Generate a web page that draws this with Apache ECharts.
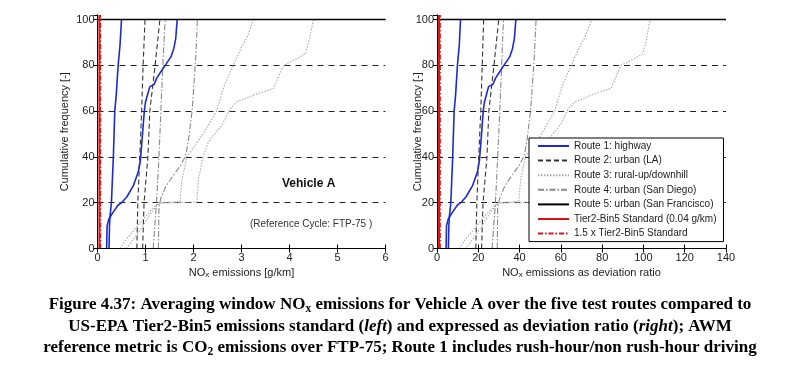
<!DOCTYPE html>
<html><head><meta charset="utf-8">
<script src="https://cdn.jsdelivr.net/npm/echarts@6/dist/echarts.min.js"></script>
<style>html,body{margin:0;padding:0;background:#fff}#c{width:800px;height:369px}</style>
</head><body><div id="c"></div>
<script>
// ---- tick labels ----
const yTicks = [0, 20, 40, 60, 80, 100];
const yMax = 102;
const leftXTicks = [0, 1, 2, 3, 4, 5, 6];
const rightXTicks = [0, 20, 40, 60, 80, 100, 120, 140];

// ---- legend names ----
const names = ['Route 1: highway', 'Route 2: urban (LA)', 'Route 3: rural-up/downhill',
  'Route 4: urban (San Diego)', 'Route 5: urban (San Francisco)',
  'Tier2-Bin5 Standard (0.04 g/km)', '1.5 x Tier2-Bin5 Standard'];

// ---- left panel: NOx [g/km] vs cumulative frequency [%] ----
const L_r1a = [[0.24,0],[0.25,10],[0.26,14],[0.29,20],[0.33,40],[0.36,60],[0.39,67],[0.43,80],[0.47,89],[0.50,100]];
const L_r1b = [[0.19,0],[0.20,10],[0.24,13],[0.33,16],[0.43,19],[0.50,20],[0.61,22.5],[0.75,27.6],[0.85,33.5],[0.89,38],[0.90,40],[0.93,48],[0.975,60],[1.00,64],[1.09,70.7],[1.18,71.7],[1.23,74.3],[1.32,77.2],[1.41,80],[1.53,83.7],[1.59,87.4],[1.63,91.8],[1.66,100]];
const L_r2a = [[0.82,0],[0.84,20],[0.88,40],[0.92,60],[0.95,80],[0.99,100]];
const L_r2b = [[0.94,0],[0.97,20],[1.05,40],[1.09,60],[1.20,80],[1.30,100]];
const L_r3a = [[0.47,0],[0.60,4],[0.80,9],[1.00,14],[1.20,18.5],[1.30,20],[1.72,20.5],[1.76,30],[1.86,40],[2.20,50],[2.48,60],[2.62,70],[2.70,74],[2.83,80],[3.00,88],[3.11,92],[3.25,100]];
const L_r3b = [[0.60,0],[0.75,4],[0.95,10],[1.10,15],[1.25,19],[1.30,19.8],[2.07,20.3],[2.10,30],[2.20,40],[2.30,46],[2.36,48],[2.60,54],[2.76,61],[2.90,64],[3.25,67],[3.67,70],[3.77,75],[3.88,80],[4.16,83],[4.33,85],[4.40,90],[4.50,100]];
const L_r4a = [[1.16,0],[1.23,20],[1.28,40],[1.32,60],[1.36,80],[1.41,100]];
const L_r4b = [[1.27,0],[1.28,18],[1.32,22],[1.42,27],[1.58,32],[1.72,36],[1.80,39],[1.85,42],[1.90,48],[1.97,60],[2.02,75],[2.05,85],[2.08,100]];
const L_r5 = [[0,100],[6,100]];
const L_std = [[0.04,0],[0.04,102]];
const L_std15 = [[0.06,0],[0.06,102]];

// ---- right panel: deviation ratio vs cumulative frequency [%] ----
const R_r1a = [[5.5,0],[5.75,10],[6.0,14],[6.7,20],[7.6,40],[8.3,60],[9.0,67],[9.9,80],[10.8,89],[11.4,100]];
const R_r1b = [[4.4,0],[4.6,10],[5.5,13],[7.6,16],[9.9,19],[11.5,20],[14.0,22.5],[17.3,27.6],[19.6,33.5],[20.5,38],[20.7,40],[21.4,48],[22.4,60],[23.0,64],[25.0,70.7],[27.1,71.7],[28.3,74.3],[30.4,77.2],[32.4,80],[35.2,83.7],[36.6,87.4],[37.5,91.8],[38.2,100]];
const R_r2a = [[18.8,0],[19.3,20],[20.2,40],[21.2,60],[21.9,80],[22.6,100]];
const R_r2b = [[21.6,0],[22.3,20],[24.2,40],[25.1,60],[27.6,80],[29.9,100]];
const R_r3a = [[10.8,0],[13.8,4],[18.4,9],[23.0,14],[27.6,18.5],[29.9,20],[39.6,20.5],[40.5,30],[42.8,40],[50.6,50],[57.0,60],[60.3,70],[62.1,74],[65.1,80],[69.0,88],[71.5,92],[75.0,100]];
const R_r3b = [[13.8,0],[17.3,4],[21.9,10],[25.3,15],[28.8,19],[29.9,19.8],[47.6,20.3],[48.3,30],[50.6,40],[52.9,46],[54.3,48],[59.8,54],[63.5,61],[66.7,64],[74.8,67],[84.4,70],[86.7,75],[89.2,80],[95.7,83],[99.6,85],[101.2,90],[103.2,100]];
const R_r4a = [[26.7,0],[28.3,20],[29.4,40],[30.4,60],[31.3,80],[32.2,100]];
const R_r4b = [[29.2,0],[29.4,18],[30.4,22],[32.7,27],[36.3,32],[39.6,36],[41.4,39],[42.6,42],[43.7,48],[45.3,60],[46.5,75],[47.2,85],[48.0,100]];
const R_r5 = [[0,100],[140,100]];
const R_std = [[1,0],[1,102]];
const R_std15 = [[1.5,0],[1.5,102]];

const FONT = 'Liberation Sans, Arial, sans-serif';
const styles = {
  r1: {color:'#1c2bd0', width:1.6, type:'solid'},
  r2: {color:'#333333', width:1.1, type:[5,3]},
  r3: {color:'#a8a8a8', width:1.1, type:[1.5,1.5]},
  r4: {color:'#888888', width:1.1, type:[6,2,1.5,2]},
  r5: {color:'#000000', width:1.5, type:'solid'},
  std: {color:'#e01010', width:2, type:'solid'},
  std15: {color:'#e01010', width:1.5, type:[5,2,1.5,2]}
};

function ln(name, data, idx, st) {
  return {type:'line', name:name, data:data, xAxisIndex:idx, yAxisIndex:idx,
    symbol:'none', showSymbol:false, lineStyle:st, itemStyle:{color:st.color},
    silent:true, animation:false, clip:true};
}

const series = [];
[[0, [L_r3a,L_r3b], [L_r4a,L_r4b], [L_r2a,L_r2b], [L_r1a,L_r1b], L_r5, L_std, L_std15],
 [1, [R_r3a,R_r3b], [R_r4a,R_r4b], [R_r2a,R_r2b], [R_r1a,R_r1b], R_r5, R_std, R_std15]].forEach(function(p){
  const i = p[0];
  series.push(ln(names[0], p[4][0], i, styles.r1));
  p[3].forEach(function(d){ series.push(ln(names[1], d, i, styles.r2)); });
  p[1].forEach(function(d){ series.push(ln(names[2], d, i, styles.r3)); });
  p[2].forEach(function(d){ series.push(ln(names[3], d, i, styles.r4)); });
  series.push(ln(names[0], p[4][1], i, styles.r1));
  series.push(ln(names[4], p[5], i, styles.r5));
  series.push(ln(names[5], p[6], i, styles.std));
  series.push(ln(names[6], p[7], i, styles.std15));
});

const axisLineStyle = {show:true, lineStyle:{color:'#000', width:1}};
const tickStyle = {show:true, inside:true, length:4, lineStyle:{color:'#000'}};
const labelStyle = {color:'#222', fontSize:11, fontFamily:FONT};
const subRich = {s:{fontSize:8, fontFamily:FONT, color:'#222', verticalAlign:'bottom', padding:[4,0,0,0]}};

function xAx(grid, ticks, pos, name) {
  return {type:'value', gridIndex:grid, position:pos, min:ticks[0], max:ticks[ticks.length-1],
    interval:ticks[1]-ticks[0], axisLine:axisLineStyle, axisTick:tickStyle,
    axisLabel: pos === 'bottom' ? Object.assign({margin:4}, labelStyle) : {show:false},
    splitLine:{show:false}, name: name || '', nameLocation:'middle', nameGap:18.5, nameMoveOverlap:false,
    z: 5,
    nameTextStyle:{color:'#222', fontSize:11, fontFamily:FONT, rich:subRich}};
}
function yAx(grid, pos, name, gap) {
  return {type:'value', gridIndex:grid, position:pos, min:yTicks[0], max:yMax,
    interval:yTicks[1]-yTicks[0], axisLine:axisLineStyle, axisTick:tickStyle,
    axisLabel: pos === 'left' ? Object.assign({margin:3, showMaxLabel:false}, labelStyle) : {show:false},
    splitLine:{show: pos === 'left', showMinLine:false, showMaxLine:false, lineStyle:{color:'#222', width:1, type:[6,5]}},
    name: name || '', nameLocation:'middle', nameGap:gap || 0, nameRotate:90, nameMoveOverlap:false,
    nameTextStyle:{color:'#222', fontSize:11, fontFamily:FONT}};
}

const option = {
  backgroundColor:'#fff',
  animation:false,
  grid:[
    {left:97.5, top:15, width:288, height:233.5},
    {left:437, top:15, width:289, height:233.5}
  ],
  xAxis:[
    xAx(0, leftXTicks, 'bottom', 'NO{s|x} emissions [g/km]'),
    xAx(1, rightXTicks, 'bottom', 'NO{s|x} emissions as deviation ratio'),
    xAx(0, leftXTicks, 'top'),
    xAx(1, rightXTicks, 'top')
  ],
  yAxis:[
    yAx(0, 'left', 'Cumulative frequency [-]', 27),
    yAx(1, 'left', 'Cumulative frequency [-]', 14),
    yAx(0, 'right'),
    yAx(1, 'right')
  ],
  legend:{
    data:names, orient:'vertical', left:529, top:138,
    itemWidth:31, itemHeight:10, itemGap:4.6, padding:[3,7,3,8],
    backgroundColor:'#fff', borderColor:'#000', borderWidth:1, borderRadius:0,
    textStyle:{color:'#222', fontSize:10, fontFamily:FONT},
    itemStyle:{opacity:0, color:'transparent', borderWidth:0},
    selectedMode:false
  },
  title:{
    left:'center', top:289,
    text:'Figure 4.37: Averaging window NO{s|x} emissions for Vehicle A over the five test routes compared to\nUS-EPA Tier2-Bin5 emissions standard ({i|left}) and expressed as deviation ratio ({i|right}); AWM\nreference metric is CO{s|2} emissions over FTP-75; Route 1 includes rush-hour/non rush-hour driving',
    textStyle:{color:'#000', fontSize:17, fontWeight:'bold', fontFamily:'Liberation Serif, Times New Roman, serif', lineHeight:21.5,
      rich:{
        s:{fontSize:11.5, fontWeight:'bold', fontFamily:'Liberation Serif, serif', color:'#000', verticalAlign:'bottom', lineHeight:15},
        i:{fontSize:17, fontWeight:'bold', fontStyle:'italic', fontFamily:'Liberation Serif, serif', color:'#000', lineHeight:21.5}
      }}
  },
  graphic:[
    {type:'text', left:282, top:178, style:{text:'Vehicle A', fontSize:12, fontWeight:'bold', fontFamily:FONT, fill:'#111'}},
    {type:'text', left:250, top:219, style:{text:'(Reference Cycle: FTP-75 )', fontSize:10, fontFamily:FONT, fill:'#333'}}
  ],
  series:series
};
echarts.init(document.getElementById('c'), null, {renderer:'canvas'}).setOption(option);
</script>
</body></html>
